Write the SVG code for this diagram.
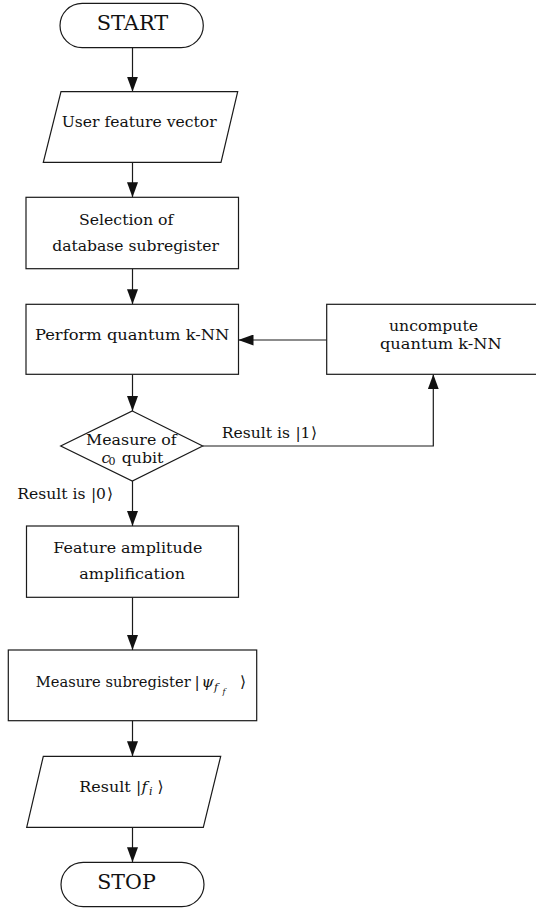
<svg xmlns="http://www.w3.org/2000/svg" width="536" height="909" viewBox="0 0 536 909">
<style>
.shape{fill:#fff;stroke:#1a1a1a;stroke-width:1.2}
.edge{fill:none;stroke:#1a1a1a;stroke-width:1.2}
text{font-family:"DejaVu Serif","Liberation Serif",serif;font-size:15.5px;fill:#111}
.big{font-size:21px}
.it{font-style:italic}
.sub{font-size:11px}
.subsub{font-size:8px}
</style>
<defs>
<marker id="arrow" markerUnits="userSpaceOnUse" markerWidth="15" markerHeight="11" refX="15" refY="5.5" orient="auto">
<path d="M0,0 L15,5.5 L0,11 z" fill="#111"/>
</marker>
</defs>
<g id="connectors">
<path class="edge" d="M132.5,47.7 V91.7" marker-end="url(#arrow)"/>
<path class="edge" d="M132.5,162.3 V197.3" marker-end="url(#arrow)"/>
<path class="edge" d="M132.5,268.7 V304.3" marker-end="url(#arrow)"/>
<path class="edge" d="M326.7,340 H238.5" marker-end="url(#arrow)"/>
<path class="edge" d="M132.5,374.3 V411" marker-end="url(#arrow)"/>
<path class="edge" d="M202.7,446 H433.3 V374.3" marker-end="url(#arrow)"/>
<path class="edge" d="M132.5,481 V526" marker-end="url(#arrow)"/>
<path class="edge" d="M132.5,597.3 V650" marker-end="url(#arrow)"/>
<path class="edge" d="M132.5,720.7 V756.3" marker-end="url(#arrow)"/>
<path class="edge" d="M132.5,827.3 V862.3" marker-end="url(#arrow)"/>
<g id="label-result1">
<text x="221.7" y="438.3" textLength="68.3" lengthAdjust="spacingAndGlyphs">Result is</text>
<text x="295.5" y="438.3">|</text>
<text x="300.5" y="438.3">1</text>
<text x="311" y="438.3">⟩</text>
</g>
<g id="label-result0">
<text x="17.3" y="499" textLength="68.3" lengthAdjust="spacingAndGlyphs">Result is</text>
<text x="91" y="499">|</text>
<text x="96" y="499">0</text>
<text x="107" y="499">⟩</text>
</g>
</g>
<g id="start">
<rect class="shape" x="60" y="3.3" width="143.3" height="44.4" rx="22.2" ry="22.2"/>
<text class="big" x="96.7" y="30" textLength="71.6" lengthAdjust="spacingAndGlyphs">START</text>
</g>
<g id="user-feature-vector">
<polygon class="shape" points="61,91.7 237.7,91.7 221,162.3 43.3,162.3"/>
<text x="61.7" y="126.7" textLength="155" lengthAdjust="spacingAndGlyphs">User feature vector</text>
</g>
<g id="selection">
<rect class="shape" x="26" y="197.3" width="212.5" height="71.4"/>
<text x="79" y="225" textLength="94.3" lengthAdjust="spacingAndGlyphs">Selection of</text>
<text x="52.3" y="250.7" textLength="166.7" lengthAdjust="spacingAndGlyphs">database subregister</text>
</g>
<g id="perform-knn">
<rect class="shape" x="26" y="304.3" width="212.5" height="70"/>
<text x="35" y="340" textLength="194.3" lengthAdjust="spacingAndGlyphs">Perform quantum k-NN</text>
</g>
<g id="uncompute-knn">
<rect class="shape" x="326.7" y="304.3" width="212" height="70"/>
<text x="389" y="330.7" textLength="89" lengthAdjust="spacingAndGlyphs">uncompute</text>
<text x="380" y="349.3" textLength="121.7" lengthAdjust="spacingAndGlyphs">quantum k-NN</text>
</g>
<g id="measure-c0">
<polygon class="shape" points="132.3,411 202.7,446 132.3,481 60.7,446"/>
<text x="86" y="444.5" textLength="90.7" lengthAdjust="spacingAndGlyphs">Measure of</text>
<text class="it" x="101.5" y="462.5">c</text>
<text class="sub" x="108.5" y="465">0</text>
<text x="121.7" y="462.5" textLength="41.6" lengthAdjust="spacingAndGlyphs">qubit</text>
</g>
<g id="amplification">
<rect class="shape" x="26.5" y="526" width="212" height="71.3"/>
<text x="53.3" y="553.3" textLength="149" lengthAdjust="spacingAndGlyphs">Feature amplitude</text>
<text x="79.3" y="579.3" textLength="105.7" lengthAdjust="spacingAndGlyphs">amplification</text>
</g>
<g id="measure-subregister">
<rect class="shape" x="8.3" y="650" width="248.4" height="70.7"/>
<text x="35.7" y="686.7" style="font-size:14.8px" textLength="155" lengthAdjust="spacingAndGlyphs">Measure subregister</text>
<text x="194.5" y="686.7">|</text>
<text class="it" x="201.5" y="686.7">ψ</text>
<text class="it sub" x="214" y="690.5">f</text>
<text class="it subsub" x="222.5" y="693.5">f</text>
<text x="240" y="686.7">⟩</text>
</g>
<g id="result-fi">
<polygon class="shape" points="43.3,756.3 220.7,756.3 203.3,827.3 26.7,827.3"/>
<text x="79.3" y="792.3" textLength="51.4" lengthAdjust="spacingAndGlyphs">Result</text>
<text x="136" y="792.3">|</text>
<text class="it" x="141.5" y="792.3">f</text>
<text class="it sub" x="149" y="795">i</text>
<text x="157.5" y="792.3">⟩</text>
</g>
<g id="stop">
<rect class="shape" x="61" y="862.3" width="143" height="44.4" rx="22.2" ry="22.2"/>
<text class="big" x="97.3" y="889.3" textLength="58.4" lengthAdjust="spacingAndGlyphs">STOP</text>
</g>
</svg>
